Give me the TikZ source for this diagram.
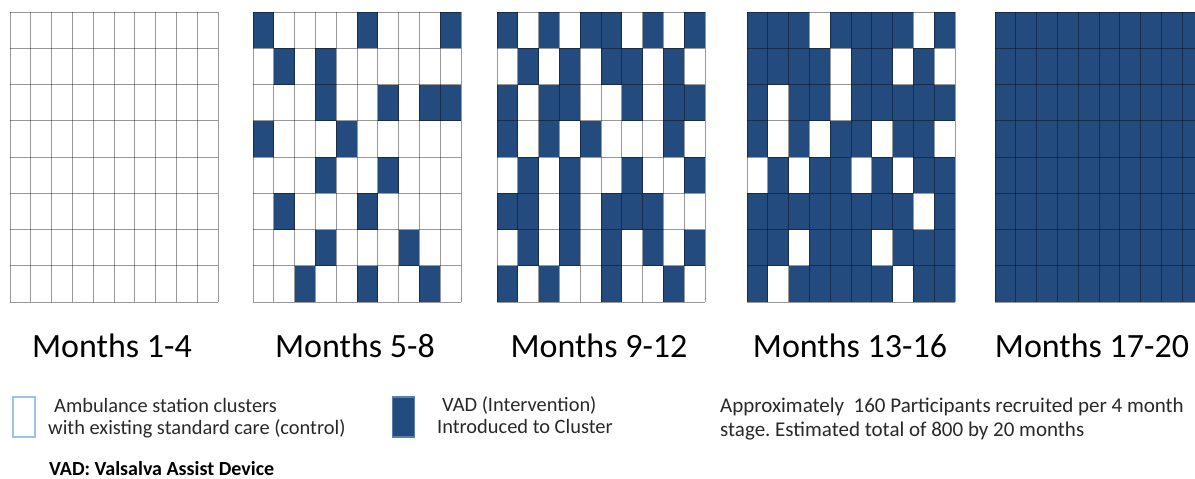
\documentclass[tikz,border=0pt]{standalone}
\usepackage{fontspec}
\setmainfont{Carlito}
\usepackage{tikz}
\usetikzlibrary{positioning}
\definecolor{vadblue}{RGB}{35,75,125}
\definecolor{keyedge}{RGB}{157,195,230}
\definecolor{textgray}{RGB}{40,40,40}
\frenchspacing

\begin{document}
\begin{tikzpicture}[x=1pt, y=-1pt,
  cellline/.style={draw=black, draw opacity=0.4, line width=0.9pt},
  stagelabel/.style={font=\fontsize{34}{40}\selectfont, anchor=base, inner sep=0pt},
  keytext/.style={font=\fontsize{20.4}{24}\selectfont, text=textgray, anchor=base west, inner sep=0pt},
  keybox/.style={minimum width=22pt, minimum height=40pt, inner sep=0pt, line width=1.4pt}]
\useasboundingbox (0,0) rectangle (1195,479);
% Cell size: 10 clusters x 8 rows per stage
\pgfmathsetmacro{\cw}{20.8}
\pgfmathsetmacro{\ch}{36.25}
\pgfmathsetmacro{\gtop}{12}

% Months 5-8
\begin{scope}[shift={(253,\gtop)}]
\foreach \row [count=\j] in {{1,0,0,0,0,1,0,0,0,1},{0,1,0,1,0,0,0,0,0,0},{0,0,0,1,0,0,1,0,1,1},{1,0,0,0,1,0,0,0,0,0},{0,0,0,1,0,0,1,0,0,0},{0,1,0,0,0,1,0,0,0,0},{0,0,0,1,0,0,0,1,0,0},{0,0,1,0,0,1,0,0,1,0}}
  \foreach \v [count=\i] in \row {
    \ifnum\v=1 \fill[vadblue] ({(\i-1)*\cw},{(\j-1)*\ch}) rectangle ++(\cw,\ch); \fi
  };
\end{scope}
% Months 9-12
\begin{scope}[shift={(497,\gtop)}]
\foreach \row [count=\j] in {{1,0,1,0,1,1,0,1,0,1},{0,1,0,1,0,1,1,0,1,0},{1,0,1,1,0,0,1,0,1,1},{1,0,1,0,1,0,0,0,1,0},{0,1,0,1,0,0,1,0,0,1},{1,1,0,1,0,1,1,1,0,0},{0,1,0,1,0,1,0,1,0,1},{1,0,1,0,0,1,0,0,1,0}}
  \foreach \v [count=\i] in \row {
    \ifnum\v=1 \fill[vadblue] ({(\i-1)*\cw},{(\j-1)*\ch}) rectangle ++(\cw,\ch); \fi
  };
\end{scope}
% Months 13-16
\begin{scope}[shift={(747,\gtop)}]
\foreach \row [count=\j] in {{1,1,1,0,1,1,1,1,0,1},{1,1,1,1,0,1,1,0,1,0},{1,0,1,1,0,1,1,1,1,1},{1,0,1,0,1,1,0,1,1,0},{0,1,0,1,1,0,1,0,1,1},{1,1,1,1,1,1,1,1,0,1},{1,1,0,1,1,1,0,1,1,1},{1,0,1,1,1,1,1,0,1,1}}
  \foreach \v [count=\i] in \row {
    \ifnum\v=1 \fill[vadblue] ({(\i-1)*\cw},{(\j-1)*\ch}) rectangle ++(\cw,\ch); \fi
  };
\end{scope}
% Months 17-20 (all clusters)
\fill[vadblue] (995,\gtop) rectangle ++({10*\cw},{8*\ch});

% Grid lines for all five stages
\foreach \gx in {10,253,497,747,995} {
  \begin{scope}[shift={(\gx,\gtop)}]
  \foreach \i in {0,...,10} \draw[cellline] ({\i*\cw},0) -- ({\i*\cw},{8*\ch});
  \foreach \j in {0,...,8} \draw[cellline] (0,{\j*\ch}) -- ({10*\cw},{\j*\ch});
  \end{scope}
}

% Stage labels
\node[stagelabel] (stageA) at (112,357) {Months 1-4};
\node[stagelabel] (stageB) at (355,357) {Months 5-8};
\node[stagelabel] (stageC) at (599,357) {Months 9-12};
\node[stagelabel] (stageD) at (850,357) {Months 13-16};
\node[stagelabel] (stageE) at (1092,357) {Months 17-20};

% Legend
\node[keybox, draw=keyedge, fill=white] (ctrlkey) at (24,417) {};
\node[keytext] (ctrlA) at (48,412) {\hspace*{6pt}Ambulance station clusters};
\node[keytext] (ctrlB) at (48,434) {with existing standard care (control)};
\node[keybox, draw=keyedge!45!vadblue, fill=vadblue] (vadkey) at (403.5,417) {};
\node[keytext] (vadA) at (437,411) {\hspace*{5pt}VAD (Intervention)};
\node[keytext] (vadB) at (437,433) {Introduced to Cluster};
\node[keytext, font=\fontsize{21}{25}\selectfont] (noteA) at (720,412) {Approximately \ 160 Participants recruited per 4 month};
\node[keytext, font=\fontsize{21}{25}\selectfont] (noteB) at (720,436) {stage. Estimated total of 800 by 20 months};
\node[keytext, font=\fontsize{20}{24}\selectfont\bfseries, text=black] (vadnote) at (49,475) {VAD: Valsalva Assist Device};

\end{tikzpicture}
\end{document}
